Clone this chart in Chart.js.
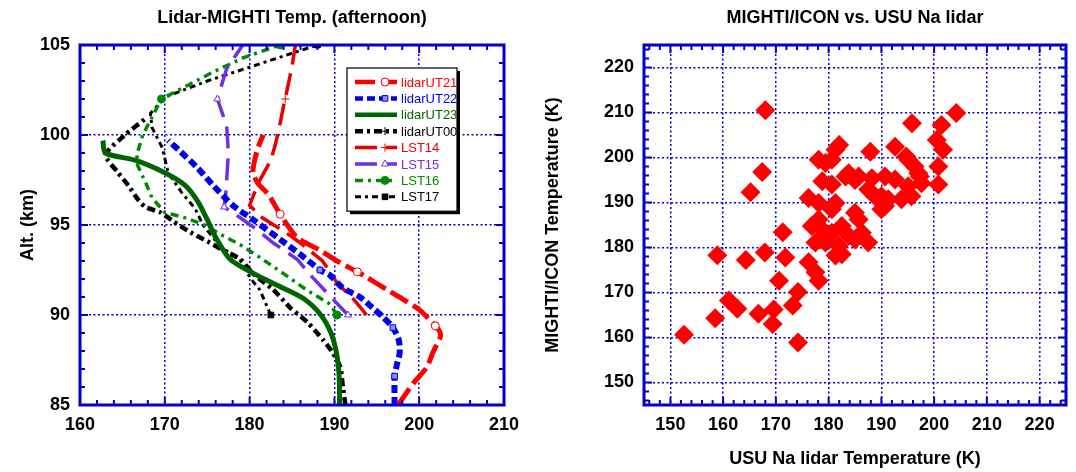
<!DOCTYPE html>
<html>
<head>
<meta charset="utf-8">
<script src="https://cdn.jsdelivr.net/npm/chart.js@4.4.1/dist/chart.umd.min.js"></script>
<style>
  body { margin: 0; background: #fff; }
  #wrap { position: relative; width: 1076px; height: 472px; }
  #left { position: absolute; left: 0; top: 0; }
  #right { position: absolute; left: 530px; top: 0; }
</style>
</head>
<body>
<div id="wrap">
  <canvas id="left" width="530" height="472"></canvas>
  <canvas id="right" width="546" height="472"></canvas>
</div>
<script>
// --- left panel: temperature profiles (K) vs altitude (km)
const ut21T   = [197.5, 199.3, 200.9, 201.6, 202.5, 202.4, 201.9, 200, 198, 196.2, 193.8, 192.7, 190.3, 188.3, 185.6, 183.6, 182.2, 181, 180.4, 180.6, 181, 181.6];
const ut21Alt = [85, 86.2, 87.1, 87.9, 88.8, 89.1, 89.4, 90.3, 90.9, 91.4, 92.1, 92.4, 93, 93.6, 94.3, 95.6, 96.7, 97.3, 97.9, 98.6, 99.3, 100];

const ut22T   = [197.1, 197.1, 197.4, 197.7, 197.6, 196.9, 195.7, 194.5, 193, 191, 189.5, 188.3, 185.9, 183.6, 180.4, 178, 175.7, 173.8, 171.8, 170.4];
const ut22Alt = [85, 86.6, 87.3, 87.9, 88.6, 89.3, 89.9, 90.4, 91, 91.5, 92.2, 92.5, 93.4, 94.2, 95.3, 96.1, 97.2, 98.2, 99.1, 99.7];

const ut23T   = [190.6, 190.6, 190.5, 190.2, 189.6, 188.4, 186.4, 183.5, 180.5, 177.7, 175.9, 175, 173.9, 172.4, 170, 166.5, 163, 162.7];
const ut23Alt = [85, 86, 87, 88, 89, 90, 90.9, 91.6, 92.3, 93.1, 94.4, 95.3, 96.3, 97.2, 97.9, 98.6, 99, 99.7];

const ut00T   = [191.3, 191, 190.7, 189.8, 188.7, 186.8, 184.8, 182.8, 180.4, 178.9, 176.9, 175, 173, 171, 169.5, 167.7, 166.7, 165.7, 164.5, 163, 165.3, 167.7];
const ut00Alt = [85, 86, 87.1, 87.9, 88.6, 89.6, 90.4, 91.4, 92.3, 93.1, 93.6, 94.1, 94.6, 95.2, 95.7, 96, 96.5, 97.2, 97.9, 98.9, 100, 100.9];

const lst14T   = [193.8, 192.4, 190.3, 188.6, 186, 184.2, 181.5, 180, 181, 182.5, 183, 183.5, 184, 184.2, 185, 185.4];
const lst14Alt = [90, 90.8, 91.8, 93, 94, 94.6, 95.4, 96.1, 97.3, 98.6, 99.4, 100.4, 101.6, 102, 103.8, 105];

const lst15T   = [191.6, 190, 187.4, 185.6, 182.8, 180.4, 178.9, 177, 177.2, 177.5, 177.3, 176.2, 177.3, 179.2];
const lst15Alt = [90, 90.8, 92.1, 93.1, 94, 94.9, 95.4, 96, 96.8, 99, 100.5, 102, 103.7, 105];

const lst16T   = [190.3, 189.5, 186.7, 184, 181.2, 178.9, 176.5, 174.7, 172.4, 170, 168.5, 167.7, 166.8, 166.7, 167.4, 168.5, 169.6, 175.7, 179.3, 183.6];
const lst16Alt = [90, 90.6, 91.4, 92.3, 93.2, 93.9, 94.5, 95, 95.4, 95.7, 96.5, 97.4, 98.3, 98.9, 100, 101, 102, 103.5, 104.3, 105];

const lst17T   = [182.5, 181.2, 180, 179.2, 177.7, 176.2, 174.5, 173.6, 172, 170.4, 169.7, 168.5, 168.3, 170, 175, 181.5, 188];
const lst17Alt = [90, 91.4, 92.1, 92.9, 93.4, 94, 95, 95.9, 96.8, 97.9, 99.3, 100.4, 101.2, 102.1, 103, 104, 105];

const profXTicks = [160, 170, 180, 190, 200, 210];
const profYTicks = [85, 90, 95, 100, 105];

// --- right panel: USU Na lidar T vs MIGHTI/ICON T (K)
const usuT = [168, 167.4, 165.2, 171.3, 158.9, 164.3, 167.9, 171.8, 170.6, 161.1, 162.7, 158.5, 152.6, 166.7, 169.6, 169.4,
  174.2, 173.2, 174.2, 176.2, 177.5, 178.1, 204.2, 195.8, 201.4, 200.5, 201.7, 187.9, 192.6, 194.7, 196.3, 197.3,
  200.8, 200.8, 195.1, 193.8, 195.7, 190.7, 190, 187.5, 185, 183.8, 185.7, 186.3, 181.3, 179.4, 180.6, 195.1,
  197, 197.6, 183.2, 185.7, 188.2, 190.7, 192.6, 178.8, 180.6, 176.2, 178.1, 181.3, 180.6, 188.8, 191.3, 190,
  185, 182.5, 183.8, 180.6, 178.8, 178.1, 181.9, 179.4, 177.5, 181.3, 176.8, 178.4, 182.5, 187.5, 185, 182, 178.1];
const mightiT = [210.5, 196.8, 192.3, 183.4, 178.3, 177.2, 178.9, 177.8, 172.6, 168.2, 166.4, 164.3, 160.6, 165.3, 166.2, 163,
  170.1, 167.1, 158.9, 176.7, 174.5, 172.6, 209.9, 207.6, 207.2, 203.9, 201.7, 201.3, 202.4, 200.2, 198, 195.8,
  198, 194, 193.6, 190.7, 191.4, 189.2, 191.4, 192.9, 195, 196.5, 186.2, 183.3, 201.7, 198.8, 199.5, 199.5,
  196.5, 194.3, 195.8, 195.8, 195.4, 195.8, 195.1, 194.7, 194, 191, 189.9, 189.9, 188.5, 191.4, 190.7, 188.5,
  187.7, 184.8, 182.6, 183.3, 184, 186.2, 180.4, 181.1, 181.1, 178.2, 184.8, 181.8, 178.5, 181.1, 181.8, 202.8, 199.5];
const scatTicks = [150, 160, 170, 180, 190, 200, 210, 220];

const BLUE = '#0000c8';
const FONT = "'Liberation Sans', Arial, sans-serif";
Chart.defaults.font.family = FONT;
Chart.defaults.color = '#000';

const pairs = (xs, ys) => xs.map((v, i) => ({ x: v, y: ys[i] }));

// inward ticks on all four sides plus the blue box
const framePlugin = {
  id: 'frame',
  afterDraw(chart, args, o) {
    const { ctx, chartArea: a, scales: { x, y } } = chart;
    ctx.save();
    ctx.strokeStyle = BLUE;
    ctx.lineWidth = 2;
    ctx.setLineDash([]);
    const line = (x1, y1, x2, y2) => { ctx.beginPath(); ctx.moveTo(x1, y1); ctx.lineTo(x2, y2); ctx.stroke(); };
    const isMajor = (v, m) => Math.abs(v / m - Math.round(v / m)) < 1e-6;
    for (let v = Math.ceil(x.min / o.xMinor) * o.xMinor; v <= x.max + 1e-6; v += o.xMinor) {
      const p = x.getPixelForValue(v);
      const len = isMajor(v, o.xMajor) ? 8 : 5;
      line(p, a.bottom, p, a.bottom - len);
      line(p, a.top, p, a.top + len);
    }
    for (let v = Math.ceil(y.min / o.yMinor) * o.yMinor; v <= y.max + 1e-6; v += o.yMinor) {
      const p = y.getPixelForValue(v);
      const len = isMajor(v, o.yMajor) ? 8 : 5;
      line(a.left, p, a.left + len, p);
      line(a.right, p, a.right - len, p);
    }
    ctx.lineWidth = 3;
    ctx.strokeRect(a.left, a.top, a.right - a.left, a.bottom - a.top);
    ctx.restore();
  }
};

// boxed legend inside the profile panel
const boxLegend = {
  id: 'boxLegend',
  afterDatasetsDraw(chart, args, o) {
    const ctx = chart.ctx;
    const sets = chart.data.datasets;
    const h = o.rowH * sets.length + 12;
    ctx.save();
    ctx.fillStyle = '#000';
    ctx.fillRect(o.x + 3, o.y + 3, o.w, h);
    ctx.fillStyle = '#fff';
    ctx.fillRect(o.x, o.y, o.w, h);
    ctx.strokeStyle = '#000';
    ctx.lineWidth = 1.2;
    ctx.strokeRect(o.x, o.y, o.w, h);
    ctx.font = '13px ' + FONT;
    ctx.textBaseline = 'middle';
    sets.forEach((d, i) => {
      const cy = o.y + 14 + i * o.rowH;
      const x0 = o.x + 8, x1 = o.x + 50;
      ctx.strokeStyle = d.borderColor;
      ctx.lineWidth = Math.min(d.borderWidth, 4.5);
      ctx.setLineDash(d.borderDash || []);
      ctx.beginPath(); ctx.moveTo(x0, cy); ctx.lineTo(x1, cy); ctx.stroke();
      ctx.setLineDash([]);
      if (d.pointStyle) {
        ctx.fillStyle = d.pointBackgroundColor;
        ctx.strokeStyle = d.borderColor;
        ctx.lineWidth = 1;
        Chart.helpers.drawPoint(ctx, { pointStyle: d.pointStyle, radius: 4, rotation: 0, borderWidth: 1 }, x1 - 12, cy);
      }
      ctx.fillStyle = d.borderColor;
      ctx.fillText(d.label, x1 + 4, cy + 1);
    });
    ctx.restore();
  }
};

const markRadius = c => (c.dataset.marks || []).includes(c.raw.y) ? 4 : 0;

function prof(label, xs, ys, color, width, dash, style, fill, marks, tension) {
  return {
    label, data: pairs(xs, ys), showLine: true,
    borderColor: color, borderWidth: width, borderDash: dash,
    pointStyle: style, pointBackgroundColor: fill, pointBorderColor: color,
    pointBorderWidth: 1, pointRadius: markRadius, marks, tension
  };
}

new Chart(document.getElementById('left'), {
  type: 'scatter',
  data: {
    datasets: [
      prof('lidarUT21', ut21T, ut21Alt, '#ff0000', 5, [20, 6], 'circle', '#fff', [89.4, 92.4, 95.6], 0.25),
      prof('lidarUT22', ut22T, ut22Alt, '#0000ee', 6, [8, 4], 'rect', '#8890ff', [86.6, 89.3, 92.5], 0.25),
      prof('lidarUT23', ut23T, ut23Alt, '#006400', 5, [], false, '#006400', [], 0.25),
      prof('lidarUT00', ut00T, ut00Alt, '#000000', 4.5, [8, 4, 3, 4], 'cross', '#000', [], 0.2),
      prof('LST14', lst14T, lst14Alt, '#e80000', 3.5, [22, 9], 'cross', '#fff', [102, 105], 0),
      prof('LST15', lst15T, lst15Alt, '#7030e0', 3.5, [22, 10], 'triangle', '#fff', [90, 96, 102], 0),
      prof('LST16', lst16T, lst16Alt, '#008a00', 3.5, [8, 5, 3, 5], 'circle', '#008a00', [90, 102, 105], 0),
      prof('LST17', lst17T, lst17Alt, '#000000', 3, [6, 4, 3, 4], 'rect', '#000', [90, 105], 0)
    ]
  },
  options: {
    responsive: false,
    animation: false,
    layout: { padding: { right: 26 } },
    plugins: {
      legend: { display: false },
      tooltip: { enabled: false },
      title: {
        display: true, fullSize: false,
        text: 'Lidar-MIGHTI Temp. (afternoon)',
        font: { size: 18, weight: 'bold' },
        padding: { top: 7, bottom: 16.4 }
      },
      frame: { xMinor: 2, xMajor: 10, yMinor: 1, yMajor: 5 },
      boxLegend: { x: 347, y: 68, w: 110, rowH: 16.4 }
    },
    scales: {
      x: {
        min: 160, max: 210,
        afterFit: s => { s.height = 67; },
        afterBuildTicks: s => { s.ticks = profXTicks.map(v => ({ value: v })); },
        ticks: { padding: 9, font: { size: 18, weight: 'bold' }, color: '#000' },
        grid: { color: BLUE, lineWidth: 1.5, drawTicks: false },
        border: { display: false, dash: [2, 2.5] }
      },
      y: {
        min: 85, max: 105,
        afterFit: s => { s.width = 80; },
        afterBuildTicks: s => { s.ticks = profYTicks.map(v => ({ value: v })); },
        ticks: { padding: 10, font: { size: 18, weight: 'bold' }, color: '#000' },
        grid: { color: BLUE, lineWidth: 1.5, drawTicks: false },
        border: { display: false, dash: [2, 2.5] },
        title: { display: true, text: 'Alt. (km)', font: { size: 18, weight: 'bold' }, padding: { top: 17 } }
      }
    }
  },
  plugins: [framePlugin, boxLegend]
});

new Chart(document.getElementById('right'), {
  type: 'scatter',
  data: {
    datasets: [{
      label: 'MIGHTI vs lidar',
      data: pairs(usuT, mightiT),
      pointStyle: 'rectRot',
      pointRadius: 10,
      backgroundColor: '#ff0000',
      borderWidth: 0
    }]
  },
  options: {
    responsive: false,
    animation: false,
    layout: { padding: { right: 9 } },
    plugins: {
      legend: { display: false },
      tooltip: { enabled: false },
      title: {
        display: true, fullSize: false,
        text: 'MIGHTI/ICON vs. USU Na lidar',
        font: { size: 18, weight: 'bold' },
        padding: { top: 7, bottom: 16.4 }
      },
      frame: { xMinor: 2, xMajor: 10, yMinor: 2, yMajor: 10 }
    },
    scales: {
      x: {
        min: 145, max: 225,
        afterFit: s => { s.height = 67; },
        afterBuildTicks: s => { s.ticks = scatTicks.map(v => ({ value: v })); },
        ticks: { padding: 9, font: { size: 18, weight: 'bold' }, color: '#000' },
        grid: { color: BLUE, lineWidth: 1.5, drawTicks: false },
        border: { display: false, dash: [2, 2.5] },
        title: { display: true, text: 'USU Na lidar Temperature (K)', font: { size: 18, weight: 'bold' }, padding: { bottom: 2 } }
      },
      y: {
        min: 145, max: 225,
        afterFit: s => { s.width = 114; },
        afterBuildTicks: s => { s.ticks = scatTicks.map(v => ({ value: v })); },
        ticks: { padding: 10, font: { size: 18, weight: 'bold' }, color: '#000' },
        grid: { color: BLUE, lineWidth: 1.5, drawTicks: false },
        border: { display: false, dash: [2, 2.5] },
        title: { display: true, text: 'MIGHTI/ICON Temperature (K)', font: { size: 18, weight: 'bold' }, padding: { top: 12 } }
      }
    }
  },
  plugins: [framePlugin]
});
</script>
</body>
</html>
